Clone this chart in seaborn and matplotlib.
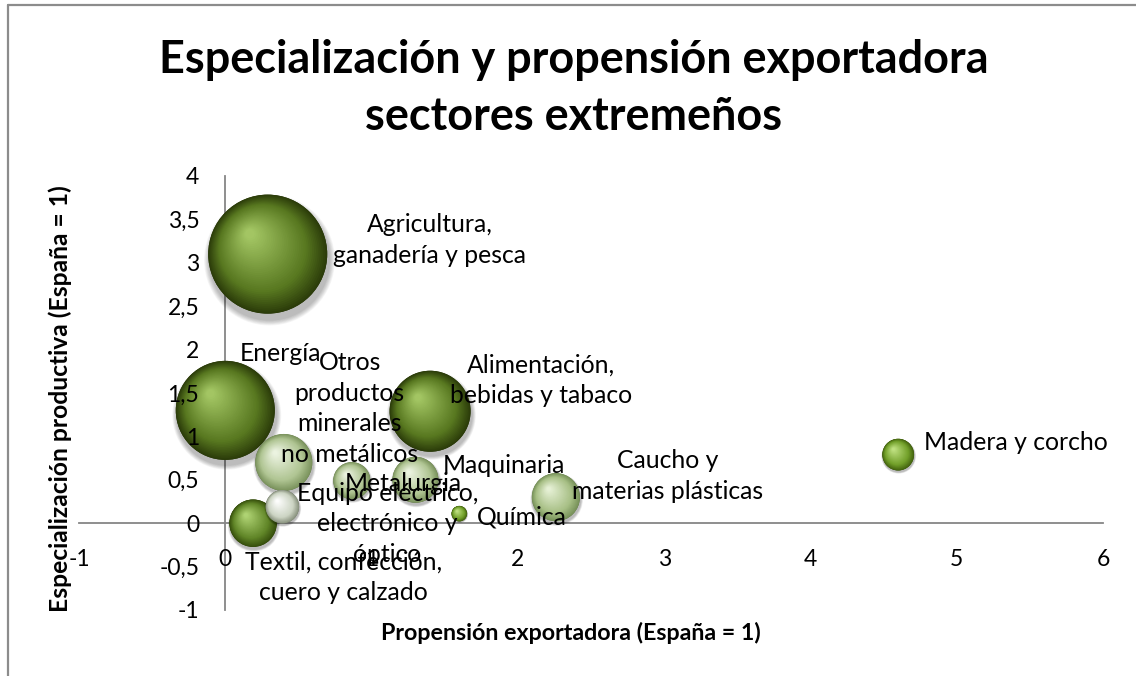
import numpy as np
import pandas as pd
import matplotlib
matplotlib.use("Agg")
import matplotlib.pyplot as plt
from matplotlib.colors import to_rgb
from matplotlib.lines import Line2D
from matplotlib.ticker import FixedLocator, FuncFormatter
import seaborn as sns

# --- datos -----------------------------------------------------------------
sectores = [
    "Agricultura,\nganadería y pesca",
    "Energía",
    "Alimentación,\nbebidas y tabaco",
    "Otros\nproductos\nminerales\nno metálicos",
    "Caucho y\nmaterias plásticas",
    "Textil, confección,\ncuero y calzado",
    "Maquinaria",
    "Metalurgia",
    "Equipo eléctrico,\nelectrónico y\nóptico",
    "Madera y corcho",
    "Química",
]
propension = [0.29, 0.00, 1.40, 0.40, 2.26, 0.19, 1.30, 0.865, 0.39, 4.60, 1.60]
especializacion = [3.10, 1.30, 1.29, 0.70, 0.30, 0.00, 0.50, 0.49, 0.19, 0.79, 0.11]
peso = [100.0, 69.2, 46.3, 22.9, 16.3, 15.9, 14.9, 9.7, 7.9, 7.1, 1.7]

x_ticks = [-1, 0, 1, 2, 3, 4, 5, 6]
y_ticks = [-1, -0.5, 0, 0.5, 1, 1.5, 2, 2.5, 3, 3.5, 4]

titulo = "Especialización y propensión exportadora\nsectores extremeños"
etiqueta_x = "Propensión exportadora (España = 1)"
etiqueta_y = "Especialización productiva (España = 1)"

# --- estilo ------------------------------------------------------------------
# tono de cada esfera: (borde, cuerpo, brillo)
tonos = {
    "oscuro": ("#2c3d0a", "#587820", "#a6c966"),
    "textil": ("#37500d", "#618628", "#b2d676"),
    "claro": ("#7b935d", "#b0c593", "#eef5e4"),
    "caucho": ("#78925a", "#a8c086", "#e8f2d8"),
    "blanco": ("#8b9480", "#cdd5c4", "#ffffff"),
    "vivo": ("#44640f", "#72a02a", "#c2e384"),
}
tono_sector = ["oscuro", "oscuro", "oscuro", "claro", "caucho", "textil",
               "claro", "claro", "blanco", "vivo", "vivo"]
# desplazamiento de cada rótulo respecto al centro de su burbuja (píxeles)
desplaz = [(162, 14), (55, 57), (111, 31), (66, 54), (112, 21), (90, -54),
           (88, 14), (51, -3), (105, -17), (118, 12), (62, -3)]

W, H, DPI = 1136, 676, 100
S_MAX = 7341.0          # área (pt²) de la burbuja de peso 100
GRIS = "#868686"

sns.set_style("white")
plt.rcParams["font.family"] = ["Lato", "DejaVu Sans"]
for clave in ("text.color", "axes.labelcolor", "xtick.color", "ytick.color"):
    plt.rcParams[clave] = "#000000"

df = pd.DataFrame({
    "sector": sectores,
    "propension": propension,
    "especializacion": especializacion,
    "peso": peso,
})

fig = plt.figure(figsize=(W / DPI, H / DPI), dpi=DPI)
ax = fig.add_axes([79 / W, 1 - 610 / H, 1024 / W, 434 / H])
ax.set_xlim(-1, 6)
ax.set_ylim(-1, 4)

palette = {s: tonos[t][0] for s, t in zip(sectores, tono_sector)}
sns.scatterplot(data=df, x="propension", y="especializacion", hue="sector",
                palette=palette, size="peso", sizes=(0, S_MAX),
                size_norm=(0, 100), legend=False, linewidth=0, ax=ax,
                zorder=1)
ax.set_xlim(-1, 6)
ax.set_ylim(-1, 4)

# --- sombreado esférico ----------------------------------------------------
base = ax.collections[0]
areas = base.get_sizes()
centros = np.asarray(base.get_offsets())
inv = ax.transData.inverted()
px_pt = DPI / 72.0


def color_en(f, borde, cuerpo, brillo):
    b, c, h = (np.array(to_rgb(v)) for v in (borde, cuerpo, brillo))
    medio = c * 0.45 + h * 0.55
    fs = [0.05, 0.36, 0.74, 1.0]
    cols = [h, medio, c, b]
    return np.array([np.interp(f, fs, [cc[k] for cc in cols]) for k in range(3)])


N = 40
for i, (s_area, c_xy) in enumerate(zip(areas, centros)):
    borde, cuerpo, brillo = tonos[tono_sector[i]]
    r_px = np.sqrt(s_area) / 2 * px_pt
    cpx = ax.transData.transform(c_xy)
    # sombra difusa bajo la esfera
    sx, sy, ss = [], [], []
    for k in range(8):
        g = 1.10 - 0.012 * k
        p = inv.transform(cpx + np.array([0.03 * r_px, -0.10 * r_px]))
        sx.append(p[0]); sy.append(p[1])
        ss.append((2 * g * r_px / px_pt) ** 2)
    ax.scatter(sx, sy, s=ss, color="#000000", alpha=0.035, linewidth=0,
               zorder=2 + 2 * i)
    xs, ys, ts, cs = [], [], [], []
    for k in range(N):
        t = k / (N - 1)
        f = 1 - 0.92 * t
        shift = t * np.array([-0.30, 0.34]) * r_px
        p = inv.transform(cpx + shift)
        xs.append(p[0]); ys.append(p[1])
        ts.append((2 * f * r_px / px_pt) ** 2)
        cs.append(color_en(f, borde, cuerpo, brillo))
    ax.scatter(xs, ys, s=ts, c=cs, linewidth=0, zorder=3 + 2 * i)

# --- ejes --------------------------------------------------------------------
for lado in ("top", "right"):
    ax.spines[lado].set_visible(False)
ax.spines["left"].set_position(("data", 0))
ax.spines["bottom"].set_position(("data", 0))
for lado in ("left", "bottom"):
    ax.spines[lado].set_color(GRIS)
    ax.spines[lado].set_linewidth(1.3)
    ax.spines[lado].set_zorder(0.5)
ax.xaxis.set_major_locator(FixedLocator(x_ticks))
ax.yaxis.set_major_locator(FixedLocator(y_ticks))
fmt = FuncFormatter(lambda v, _: f"{v:g}".replace(".", ","))
ax.xaxis.set_major_formatter(fmt)
ax.yaxis.set_major_formatter(fmt)
ax.tick_params(axis="both", direction="out", length=7 * 72 / DPI, width=1.3,
               color=GRIS, labelsize=16.5, labelcolor="#000000",
               pad=19 * 72 / DPI)
ax.yaxis.set_zorder(40)
ax.set_xlabel("")
ax.set_ylabel("")
ax.grid(False)

fig.canvas.draw()
rend = fig.canvas.get_renderer()


def paso_lineas(texto, pitch_px):
    """linespacing que da una separación entre líneas de pitch_px píxeles."""
    _, h, _ = rend.get_text_width_height_descent(
        "lp", texto.get_fontproperties(), ismath=False)
    return pitch_px / h


# --- rótulos de las burbujas ---------------------------------------------------
rotulos = []
for i, row in df.iterrows():
    t = ax.annotate(row["sector"], xy=(row["propension"], row["especializacion"]),
                    xytext=desplaz[i], textcoords="offset pixels",
                    ha="center", va="center", fontsize=17,
                    color="#000000", zorder=50)
    rotulos.append(t)

ref = rotulos[sectores.index("Madera y corcho")]
tam = 17 * 183 / ref.get_window_extent(rend).width
for t in rotulos:
    t.set_fontsize(tam)
    t.set_linespacing(paso_lineas(t, 32))

# --- títulos ------------------------------------------------------------------
# va="baseline" en un texto de dos líneas alinea la línea inferior
tit = fig.text(574 / W, 1 - 130 / H, titulo, ha="center", va="baseline",
               fontsize=30, fontweight="bold")
xl = fig.text(571 / W, 1 - 633 / H, etiqueta_x, ha="center", va="center",
              fontsize=15, fontweight="bold")
yl = fig.text(60 / W, 1 - 399 / H, etiqueta_y, ha="center", va="center",
              fontsize=15, fontweight="bold", rotation=90)
fig.canvas.draw()
tit.set_fontsize(30 * 830 / tit.get_window_extent(rend).width)
tit.set_linespacing(paso_lineas(tit, 61))
xl.set_fontsize(15 * 382 / xl.get_window_extent(rend).width)
yl.set_fontsize(15 * 428 / yl.get_window_extent(rend).height)

# marco del gráfico
fig.add_artist(Line2D([8 / W, 1], [1 - 5 / H, 1 - 5 / H], color="#8c8c8c",
                      lw=1.6, transform=fig.transFigure))
fig.add_artist(Line2D([8 / W, 8 / W], [0, 1 - 5 / H], color="#8c8c8c",
                      lw=1.6, transform=fig.transFigure))

fig.savefig("out.png", dpi=DPI)
